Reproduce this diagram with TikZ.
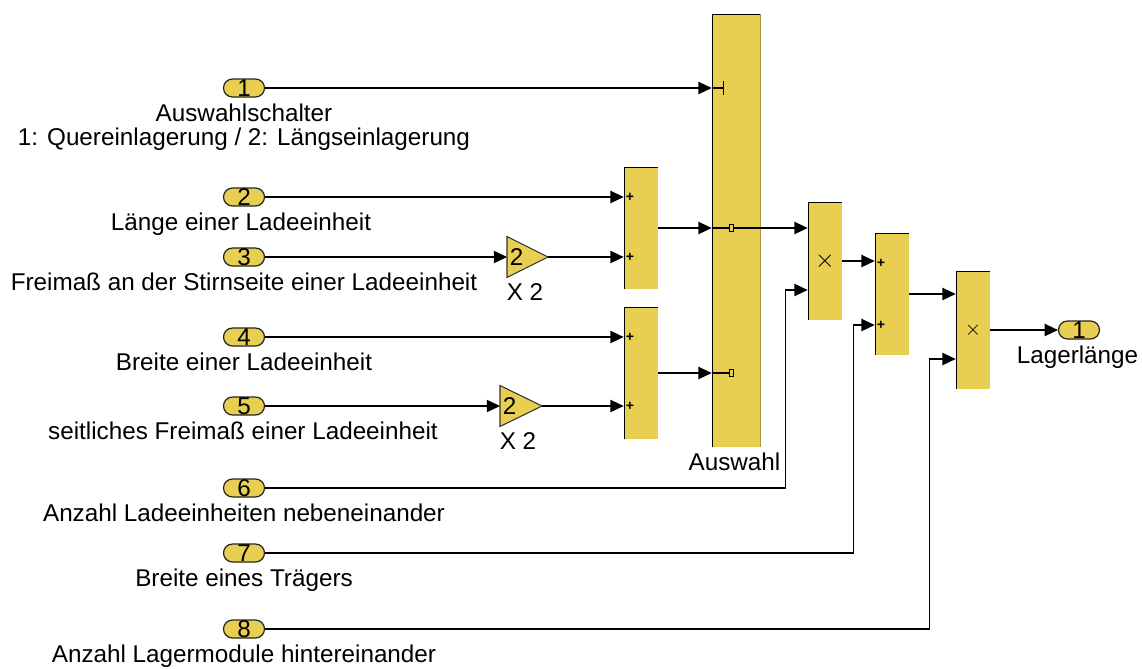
\documentclass[tikz,border=0pt]{standalone}
\usepackage{fontspec}
\setmainfont{Liberation Sans}
\definecolor{slYellow}{HTML}{E8CF52}
\definecolor{slOlive}{HTML}{A89A3A}
\usetikzlibrary{arrows.meta, positioning, calc}

\begin{document}
\begin{tikzpicture}[
  font=\fontsize{13.8}{16}\selectfont,
  sig/.style={-{Triangle[length=7.5pt, width=7pt]}, line width=0.6pt},
  wire/.style={line width=0.6pt},
  port/.style={rounded corners=0.18cm, minimum width=0.82cm, minimum height=0.36cm,
    inner sep=0pt, fill=slYellow, draw=black!85, line width=0.7pt},
  portlabel/.style={anchor=base, inner sep=0pt},
  block/.style={fill=slYellow, minimum width=0.68cm, inner sep=0pt,
    path picture={\draw[line width=1.6pt] (path picture bounding box.south west)
      -- (path picture bounding box.north west) -- (path picture bounding box.north east);}},
  gain/.style={fill=slYellow, draw=black!80, line width=0.6pt},
  sign/.style={font=\fontsize{8}{8}\selectfont\bfseries, inner sep=0pt},
  swmark/.style={draw, line width=0.6pt, fill=slYellow, minimum width=0.07cm,
    minimum height=0.14cm, inner sep=0pt}]
  \useasboundingbox (0,0) rectangle (22.84,-13.36);

  % inports
  \node[port] (in1) at (4.88,-1.76) {1};
  \node[port] (in2) at (4.88,-3.94) {2};
  \node[port] (in3) at (4.88,-5.14) {3};
  \node[port] (in4) at (4.88,-6.74) {4};
  \node[port] (in5) at (4.88,-8.12) {5};
  \node[port] (in6) at (4.88,-9.76) {6};
  \node[port] (in7) at (4.88,-11.06) {7};
  \node[port] (in8) at (4.88,-12.58) {8};
  \node[portlabel] (l1) at (4.88,-2.42) {Auswahlschalter};
  \node[portlabel] (l1b) at (4.88,-2.90) {1: Quereinlagerung / 2: Längseinlagerung};
  \node[portlabel] (l2) at (4.82,-4.60) {Länge einer Ladeeinheit};
  \node[portlabel] (l3) at (4.88,-5.80) {Freimaß an der Stirnseite einer Ladeeinheit};
  \node[portlabel] (l4) at (4.88,-7.40) {Breite einer Ladeeinheit};
  \node[portlabel] (l5) at (4.86,-8.78) {seitliches Freimaß einer Ladeeinheit};
  \node[portlabel] (l6) at (4.88,-10.42) {Anzahl Ladeeinheiten nebeneinander};
  \node[portlabel] (l7) at (4.88,-11.72) {Breite eines Trägers};
  \node[portlabel] (l8) at (4.88,-13.24) {Anzahl Lagermodule hintereinander};

  % gains
  \coordinate (g1in) at (10.14,-5.14);
  \coordinate (g1out) at (10.96,-5.14);
  \draw[gain] ($(g1in)+(0,0.41)$) -- (g1out) -- ($(g1in)+(0,-0.41)$) -- cycle;
  \node[anchor=west, inner sep=0pt] (g1val) at ([xshift=0.05cm]g1in) {2};
  \node[anchor=base] (g1lbl) at (10.5,-6.0) {X 2};
  \coordinate (g2in) at (10.0,-8.12);
  \coordinate (g2out) at (10.84,-8.12);
  \draw[gain] ($(g2in)+(0,0.41)$) -- (g2out) -- ($(g2in)+(0,-0.41)$) -- cycle;
  \node[anchor=west, inner sep=0pt] (g2val) at ([xshift=0.05cm]g2in) {2};
  \node[anchor=base] (g2lbl) at (10.36,-8.99) {X 2};

  % sums, switch, products
  \node[block, minimum height=2.44cm] (s1) at (12.82,-4.56) {};
  \node[block, minimum height=2.64cm] (s2) at (12.82,-7.46) {};
  \node[block, minimum width=0.96cm, minimum height=8.66cm] (sw) at (14.72,-4.61) {};
  \draw[slOlive, line width=0.8pt] (sw.north east) -- (sw.south east);
  \node[anchor=base] (swlbl) at (14.69,-9.4) {Auswahl};
  \node[block, minimum height=2.36cm] (p1) at (16.5,-5.22) {};
  \node[block, minimum height=2.44cm] (s3) at (17.84,-5.88) {};
  \node[block, minimum height=2.36cm] (p2) at (19.46,-6.6) {};
  \node[port] (o1) at (21.58,-6.6) {1};
  \node[portlabel] (lo1) at (21.55,-7.26) {Lagerlänge};

  \node[sign] at (12.6,-3.94) {+};
  \node[sign] at (12.6,-5.14) {+};
  \node[sign] at (12.6,-6.74) {+};
  \node[sign] at (12.6,-8.12) {+};
  \node[sign] at (17.62,-5.26) {+};
  \node[sign] at (17.62,-6.5) {+};
  \node[font=\fontsize{14}{14}\selectfont, inner sep=0pt] at (p1) {$\times$};
  \node[font=\fontsize{12}{12}\selectfont, inner sep=0pt] at (p2) {$\times$};

  % signals
  \draw[sig] (in1.east) -- (in1.east -| sw.west);
  \draw[sig] (in2.east) -- (in2.east -| s1.west);
  \draw[sig] (in3.east) -- (g1in);
  \draw[sig] (g1out) -- (g1out -| s1.west);
  \draw[sig] (in4.east) -- (in4.east -| s2.west);
  \draw[sig] (in5.east) -- (g2in);
  \draw[sig] (g2out) -- (g2out -| s2.west);
  \draw[sig] (s1.east) -- (s1.east -| sw.west);
  \draw[sig] (s2.east) -- (s2.east -| sw.west);
  \draw[sig] (sw.east |- s1.east) -- (s1.east -| p1.west);
  \draw[sig] (p1.east) -- (p1.east -| s3.west);
  \draw[sig] (s3.east) -- (s3.east -| p2.west);
  \draw[sig] (p2.east) -- (o1.west);
  \coordinate (p1b) at ($(p1.west)+(0,-0.58)$);
  \coordinate (s3b) at ($(s3.west)+(0,-0.62)$);
  \coordinate (p2b) at ($(p2.west)+(0,-0.58)$);
  \draw[sig] (in6.east) -| ([xshift=-0.44cm]p1b) -- (p1b);
  \draw[sig] (in7.east) -| ([xshift=-0.42cm]s3b) -- (s3b);
  \draw[sig] (in8.east) -| ([xshift=-0.52cm]p2b) -- (p2b);

  % switch internals
  \coordinate (swc) at (in1.east -| sw.west);
  \draw[wire] (swc) -- ++(0.24,0);
  \draw[wire] ([shift={(0.24,0.14)}]swc) -- ++(0,-0.28);
  \draw[wire] (s1.east -| sw.west) -- (s1.east -| sw.east);
  \node[swmark] (swm1) at ([xshift=0.4cm]s1.east -| sw.west) {};
  \draw[wire] (s2.east -| sw.west) -- ++(0.36,0);
  \node[swmark] (swm2) at ([xshift=0.4cm]s2.east -| sw.west) {};
\end{tikzpicture}
\end{document}
